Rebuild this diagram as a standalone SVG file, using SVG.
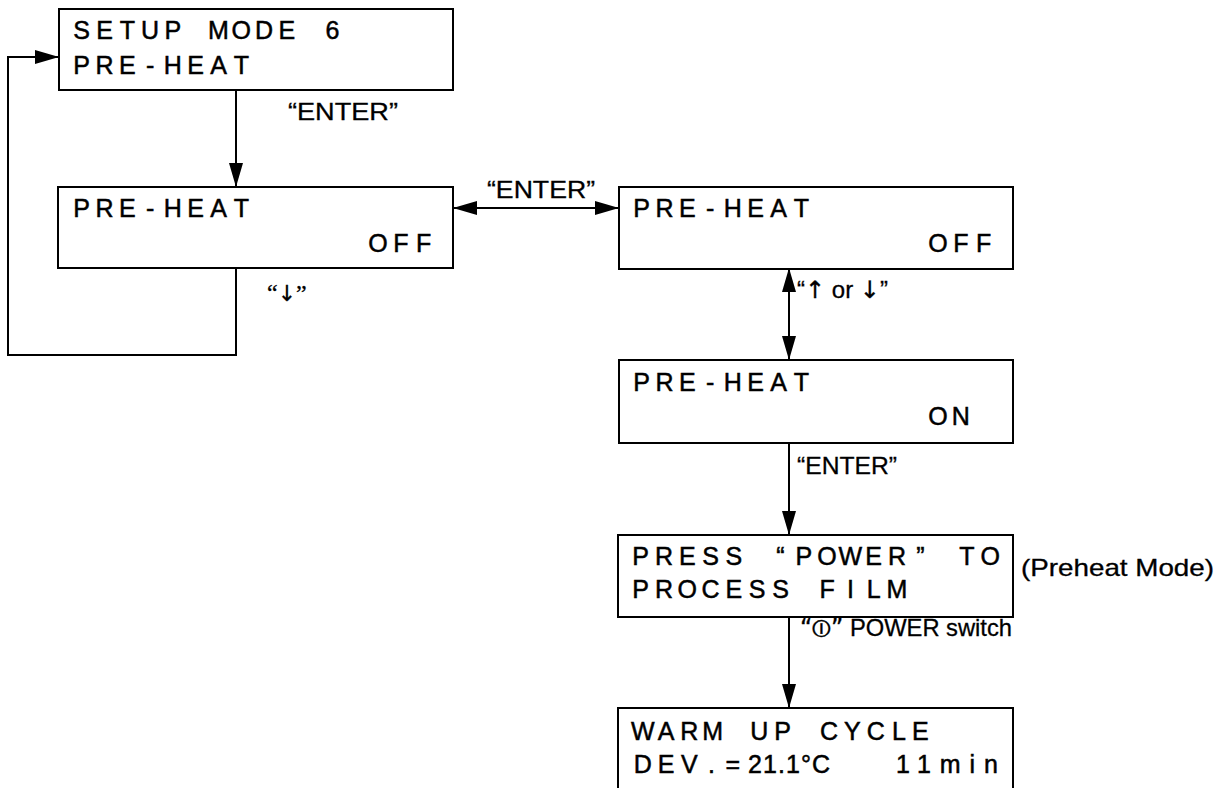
<svg xmlns="http://www.w3.org/2000/svg" width="1220" height="788" viewBox="0 0 1220 788">
<style>
.box{fill:#fff;stroke:#000;stroke-width:2}
.lcd{font-family:"Liberation Sans",Arial,sans-serif;font-size:25px;fill:#000;stroke:#000;stroke-width:0.5;text-anchor:middle}
.lcdp{font-family:"Liberation Sans",Arial,sans-serif;font-size:25px;fill:#000;stroke:#000;stroke-width:0.5}
.lbl{font-family:"Liberation Sans",Arial,sans-serif;font-size:24px;fill:#000;stroke:#000;stroke-width:0.3}
.arw{font-family:"DejaVu Sans",sans-serif}
.con{fill:none;stroke:#000;stroke-width:2}
</style>
<defs>
<marker id="ah" viewBox="0 0 24 14" refX="24" refY="7" markerWidth="24" markerHeight="14" markerUnits="userSpaceOnUse" orient="auto-start-reverse">
<path d="M0,0 L24,7 L0,14 z" fill="#000"/>
</marker>
</defs>
<rect width="1220" height="788" fill="#fff"/>
<g id="connectors">
<line class="con" x1="236" y1="90" x2="236" y2="187" marker-end="url(#ah)"/>
<polyline class="con" points="236,268 236,355 8,355 8,57 59,57" marker-end="url(#ah)"/>
<line class="con" x1="453" y1="208" x2="619" y2="208" marker-start="url(#ah)" marker-end="url(#ah)"/>
<line class="con" x1="789" y1="268" x2="789" y2="360" marker-start="url(#ah)" marker-end="url(#ah)"/>
<line class="con" x1="789" y1="443" x2="789" y2="535" marker-end="url(#ah)"/>
<line class="con" x1="789" y1="617" x2="789" y2="708" marker-end="url(#ah)"/>
<text class="lbl" x="288" y="120" textLength="110" lengthAdjust="spacingAndGlyphs">“ENTER”</text>
<text class="lbl" x="267" y="301" font-size="22"><tspan font-family="'Liberation Serif',serif">“</tspan><tspan class="arw" font-size="22">↓</tspan><tspan font-family="'Liberation Serif',serif">”</tspan></text>
<text class="lbl" x="487" y="198" textLength="108" lengthAdjust="spacingAndGlyphs">“ENTER”</text>
<text class="lbl" x="797" y="298">“<tspan class="arw">↑</tspan> or <tspan class="arw">↓</tspan>”</text>
<text class="lbl" x="797" y="474" textLength="100" lengthAdjust="spacingAndGlyphs">“ENTER”</text>
<text class="lbl" x="800" y="636" textLength="212" lengthAdjust="spacingAndGlyphs"><tspan font-family="'DejaVu Sans',sans-serif">“⏼”</tspan> POWER switch</text>
<text class="lbl" x="1021" y="576" font-size="25" textLength="193" lengthAdjust="spacingAndGlyphs">(Preheat Mode)</text>
</g>
<g id="n1">
<rect class="box" x="59" y="9" width="394" height="81"/>
<text class="lcd" y="39" x="81.7 104.5 127.3 150.1 172.9 195.7 218.5 241.3 264.1 286.9 309.7 332.5">SETUP MODE 6</text>
<text class="lcd" y="74" x="81.7 104.5 127.3 150.1 172.9 195.7 218.5 241.3">PRE-HEAT</text>
</g>
<g id="n2">
<rect class="box" x="58" y="187" width="395" height="81"/>
<text class="lcd" y="217" x="81.7 104.5 127.3 150.1 172.9 195.7 218.5 241.3">PRE-HEAT</text>
<text class="lcd" y="252" x="378.1 400.9 423.7">OFF</text>
</g>
<g id="n3">
<rect class="box" x="619" y="187" width="394" height="82"/>
<text class="lcd" y="217" x="641.7 664.5 687.3 710.1 732.9 755.7 778.5 801.3">PRE-HEAT</text>
<text class="lcd" y="252" x="938.1 960.9 983.7">OFF</text>
</g>
<g id="n4">
<rect class="box" x="619" y="360" width="394" height="83"/>
<text class="lcd" y="391" x="641.7 664.5 687.3 710.1 732.9 755.7 778.5 801.3">PRE-HEAT</text>
<text class="lcd" y="425" x="938.1 960.9">ON</text>
</g>
<g id="n5">
<rect class="box" x="618" y="535" width="395" height="82"/>
<text class="lcd" y="565" x="640.7 664.0 687.3 710.6 733.9 757.2 780.5 803.8 827.1 850.4 873.7 897.0 920.3 943.6 966.9 990.2">PRESS “POWER” TO</text>
<text class="lcd" y="598" x="640.7 664.0 687.3 710.6 733.9 757.2 780.5 803.8 827.1 850.4 873.7 897.0">PROCESS FILM</text>
</g>
<g id="n6">
<rect class="box" x="618" y="708" width="395" height="90"/>
<text class="lcd" y="740" x="642.7 666.0 689.3 712.6 735.9 759.2 782.5 805.8 829.1 852.4 875.7 899.0 920.3">WARM UP CYCLE</text>
<text class="lcd" y="773" x="642.7 666.0 689.3 711.6 732.9">DEV.=</text>
<text class="lcdp" y="773" x="748" textLength="82" lengthAdjust="spacing">21.1°C</text>
<text class="lcdp" y="773" x="896" textLength="102" lengthAdjust="spacing">11min</text>
</g>
</svg>
